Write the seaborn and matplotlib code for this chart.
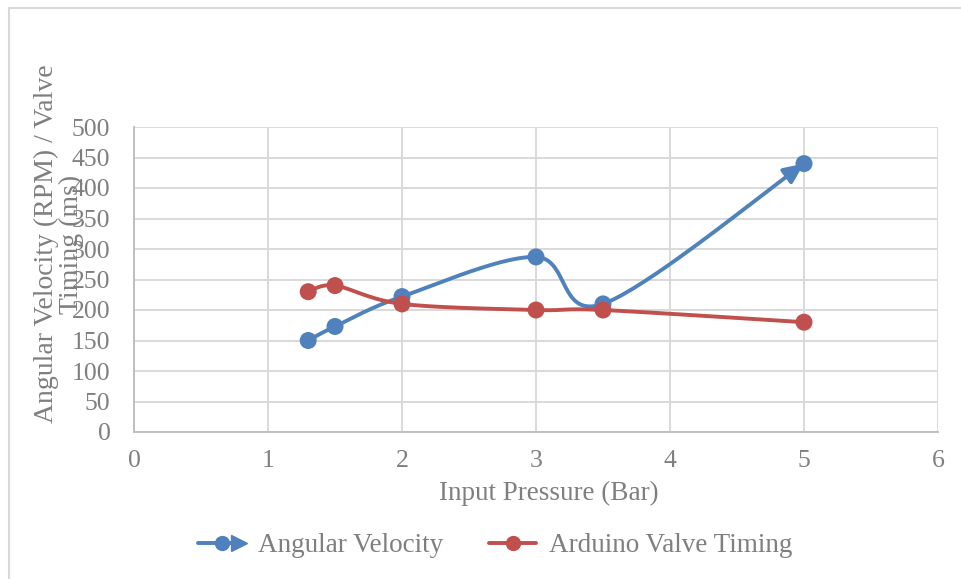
import numpy as np
import pandas as pd
import matplotlib
matplotlib.use("Agg")
import matplotlib.pyplot as plt
import seaborn as sns
from matplotlib.lines import Line2D
from matplotlib.legend_handler import HandlerBase

# Measured data
pressure = [1.3, 1.5, 2.0, 3.0, 3.5, 5.0]
angular_velocity = [150, 173, 222, 287, 210, 440]
valve_timing = [230, 240, 210, 200, 200, 180]

x_ticks = [0, 1, 2, 3, 4, 5, 6]
y_ticks = [0, 50, 100, 150, 200, 250, 300, 350, 400, 450, 500]

BLUE = "#4f81bd"
RED = "#c0504d"
TEXT = "#7f7f7f"
GRID = "#d9d9d9"
FONT = ["Liberation Serif", "DejaVu Serif"]


def smooth_curve(xs, ys, steps=40):
    """Catmull-Rom style smoothed line through the points (Bezier segments)."""
    p = np.column_stack([xs, ys]).astype(float)
    pts = np.vstack([p[0], p, p[-1]])
    out = []
    for i in range(1, len(pts) - 2):
        p0, p1, p2, p3 = pts[i - 1], pts[i], pts[i + 1], pts[i + 2]
        c1 = p1 + (p2 - p0) / 6.0
        c2 = p2 - (p3 - p1) / 6.0
        t = np.linspace(0, 1, steps)[:, None]
        seg = ((1 - t) ** 3) * p1 + 3 * ((1 - t) ** 2) * t * c1 + 3 * (1 - t) * t ** 2 * c2 + t ** 3 * p2
        out.append(seg if i == 1 else seg[1:])
    c = np.vstack(out)
    return c[:, 0], c[:, 1]


sns.set_theme(style="whitegrid")
plt.rcParams["font.family"] = FONT

fig = plt.figure(figsize=(9.62, 5.79), dpi=100)
ax = fig.add_axes([134 / 962, 1 - 432 / 579, (938 - 134) / 962, (432 - 127) / 579])

bx, by = smooth_curve(pressure, angular_velocity)
rx, ry = smooth_curve(pressure, valve_timing)
curves = pd.DataFrame({
    "x": np.concatenate([bx, rx]),
    "y": np.concatenate([by, ry]),
    "series": ["Angular Velocity"] * len(bx) + ["Arduino Valve Timing"] * len(rx),
})
sns.lineplot(data=curves, x="x", y="y", hue="series", sort=False,
             palette=[BLUE, RED], linewidth=2.8, legend=False, ax=ax, zorder=3)

# arrowhead on the end of the angular velocity curve
ax.annotate("", xy=(bx[-1], by[-1]), xytext=(bx[-4], by[-4]),
            arrowprops=dict(arrowstyle="-|>,head_length=1.0,head_width=0.45",
                            color=BLUE, lw=2.8, shrinkA=0, shrinkB=0),
            zorder=4)

points = pd.DataFrame({
    "x": pressure + pressure,
    "y": angular_velocity + valve_timing,
    "series": ["Angular Velocity"] * len(pressure) + ["Arduino Valve Timing"] * len(pressure),
})
sns.scatterplot(data=points, x="x", y="y", hue="series", palette=[BLUE, RED],
                s=150, edgecolor="none", legend=False, ax=ax, zorder=5)

ax.set_xlim(0, 6)
ax.set_ylim(0, 500)
ax.set_xticks(x_ticks)
ax.set_yticks(y_ticks)
ax.grid(True, color=GRID, linewidth=1.4)
for side in ["top", "right"]:
    ax.spines[side].set_visible(False)
for side in ["left", "bottom"]:
    ax.spines[side].set_color("#bfbfbf")
    ax.spines[side].set_linewidth(1.4)
ax.tick_params(axis="both", colors=TEXT, labelsize=18.5, length=0)
ax.tick_params(axis="y", pad=17)
ax.tick_params(axis="x", pad=13)
for lbl in ax.get_xticklabels() + ax.get_yticklabels():
    lbl.set_color(TEXT)

ax.set_xlabel("")
ax.set_ylabel("")
fig.text(549 / 962, 1 - 493 / 579, "Input Pressure (Bar)", ha="center", va="center",
         fontsize=19.5, color=TEXT)
fig.text(59 / 962, 1 - 244 / 579, "Angular Velocity (RPM) / Valve\nTiming (ms)",
         rotation=90, ha="center", va="center", fontsize=20, color=TEXT,
         linespacing=1.0, multialignment="center")


class ArrowLineHandler(HandlerBase):
    def create_artists(self, legend, orig, xd, yd, width, height, fontsize, trans):
        y = height / 2 - yd
        x0 = -xd
        line = Line2D([x0, x0 + width - 5], [y, y], color=BLUE, lw=2.8)
        dot = Line2D([x0 + width * 0.5], [y], marker="o", color=BLUE,
                     markersize=10, linestyle="none")
        head = Line2D([x0 + width - 5], [y], marker=">", color=BLUE,
                      markersize=11, linestyle="none")
        for a in (line, dot, head):
            a.set_transform(trans)
        return [line, dot, head]


h_blue = Line2D([], [], color=BLUE)
h_red = Line2D([], [], color=RED, lw=2.8, marker="o", markersize=10)
fig.legend([h_blue, h_red], ["Angular Velocity", "Arduino Valve Timing"],
           handler_map={h_blue: ArrowLineHandler()},
           loc="center", bbox_to_anchor=(495 / 962, 1 - 546 / 579),
           ncol=2, frameon=False, fontsize=19.5, labelcolor=TEXT,
           handlelength=1.75, handletextpad=0.45, columnspacing=1.7)

# chart area frame
fig.add_artist(Line2D([9 / 962, 9 / 962], [0, 1 - 8 / 579], color=GRID, lw=1.5,
                      transform=fig.transFigure))
fig.add_artist(Line2D([9 / 962, 1], [1 - 8 / 579, 1 - 8 / 579], color=GRID, lw=1.5,
                      transform=fig.transFigure))

fig.savefig("out.png", dpi=100, facecolor="white")
